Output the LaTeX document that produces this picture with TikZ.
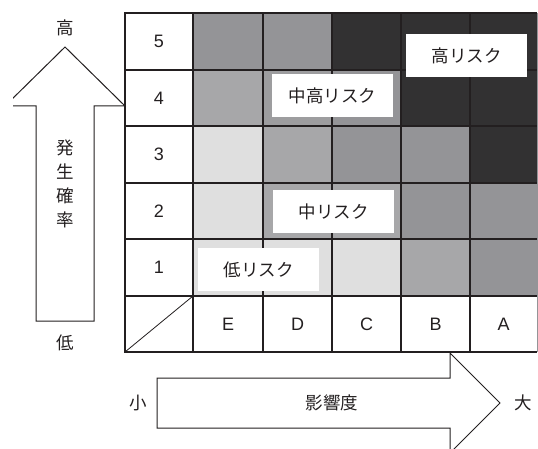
\documentclass[tikz,border=0pt]{standalone}
\usepackage{fontspec}
\setmainfont{Liberation Sans}
\newfontfamily\jp{Noto Sans CJK JP}
\definecolor{ink}{HTML}{231F20}
\definecolor{dk}{HTML}{323132}
\definecolor{md}{HTML}{949497}
\definecolor{mdb}{HTML}{9D9D9F}
\definecolor{lm}{HTML}{A7A7A9}
\definecolor{pl}{HTML}{DFDFDF}
\begin{document}
\begin{tikzpicture}[x=1pt,y=-1pt,
  lbl/.style={text=ink,font=\fontsize{18}{21}\selectfont,inner sep=0pt},
  jlbl/.style={text=ink,font=\jp\fontsize{17.5}{24}\selectfont,inner sep=0pt},
  riskbox/.style={fill=white,minimum width=121pt,minimum height=43pt,inner sep=0pt,text=ink,font=\jp\fontsize{17.5}{20}\selectfont},
  arrowline/.style={draw=ink,line width=1pt,fill=white,line join=miter},
  gridline/.style={draw=ink,line width=2pt}]
\useasboundingbox (0,0) rectangle (538,449);
% cell fills
\foreach \xa/\xb/\ya/\yb/\c in {
  193/263/13/70/md, 263/332/13/70/md, 332/401/13/70/dk, 401/470/13/70/dk, 470/537/13/70/dk,
  193/263/70/126/lm, 263/332/70/126/mdb, 332/401/70/126/md, 401/470/70/126/dk, 470/537/70/126/dk,
  193/263/126/183/pl, 263/332/126/183/lm, 332/401/126/183/md, 401/470/126/183/md, 470/537/126/183/dk,
  193/263/183/239/pl, 263/332/183/239/lm, 332/401/183/239/lm, 401/470/183/239/md, 470/537/183/239/md,
  193/263/239/296/pl, 263/332/239/296/pl, 332/401/239/296/pl, 401/470/239/296/lm, 470/537/239/296/md}
  {\fill[\c] (\xa,\ya) rectangle (\xb,\yb);}
% grid lines
\foreach \x in {193,263,332,401,470} {\draw[gridline] (\x,13) -- (\x,352);}
\foreach \y in {70,126,183,239,296} {\draw[gridline] (125,\y) -- (537,\y);}
\draw[draw=md,line width=1pt] (537,13) -- (537,352);
\draw[draw=ink,line width=2.5pt] (537,13) -- (125,13) -- (125,352) -- (537,352);
\draw[draw=ink,line width=0.8pt] (125,352) -- (193,296);
% row labels
\node[lbl] (r5) at (159,41.5) {5};
\node[lbl] (r4) at (159,98) {4};
\node[lbl] (r3) at (159,154.5) {3};
\node[lbl] (r2) at (159,211) {2};
\node[lbl] (r1) at (159,267.5) {1};
% column labels
\node[lbl] (cE) at (228,324) {E};
\node[lbl] (cD) at (297.5,324) {D};
\node[lbl] (cC) at (366.5,324) {C};
\node[lbl] (cB) at (435.5,324) {B};
\node[lbl] (cA) at (503.5,324) {A};
% risk labels
\node[riskbox] (high) at (466.5,55.5) {高リスク};
\node[riskbox] (midhigh) at (332.5,96) {中高リスク};
\node[riskbox] (mid) at (333.5,211.5) {中リスク};
\node[riskbox] (low) at (258.5,269.5) {低リスク};
% vertical arrow
\begin{scope}
\clip (13,0) rectangle (538,449);
\draw[arrowline] (36,321) -- (36,106) -- (5,106) -- (65,47) -- (125,106) -- (94,106) -- (94,321) -- cycle;
\end{scope}
\node[jlbl] (hi) at (65,28) {高};
\node[jlbl] (lo) at (65,343) {低};
\node[jlbl,align=center] (prob) at (65,184) {発\\生\\確\\率};
% horizontal arrow
\begin{scope}
\clip (0,0) rectangle (538,449);
\draw[arrowline] (157,378) -- (450,378) -- (450,353) -- (500,403) -- (450,453) -- (450,428) -- (157,428) -- cycle;
\end{scope}
\node[jlbl] (small) at (138,403) {小};
\node[jlbl] (impact) at (332,403) {影響度};
\node[jlbl] (big) at (523,403) {大};
\end{tikzpicture}
\end{document}
